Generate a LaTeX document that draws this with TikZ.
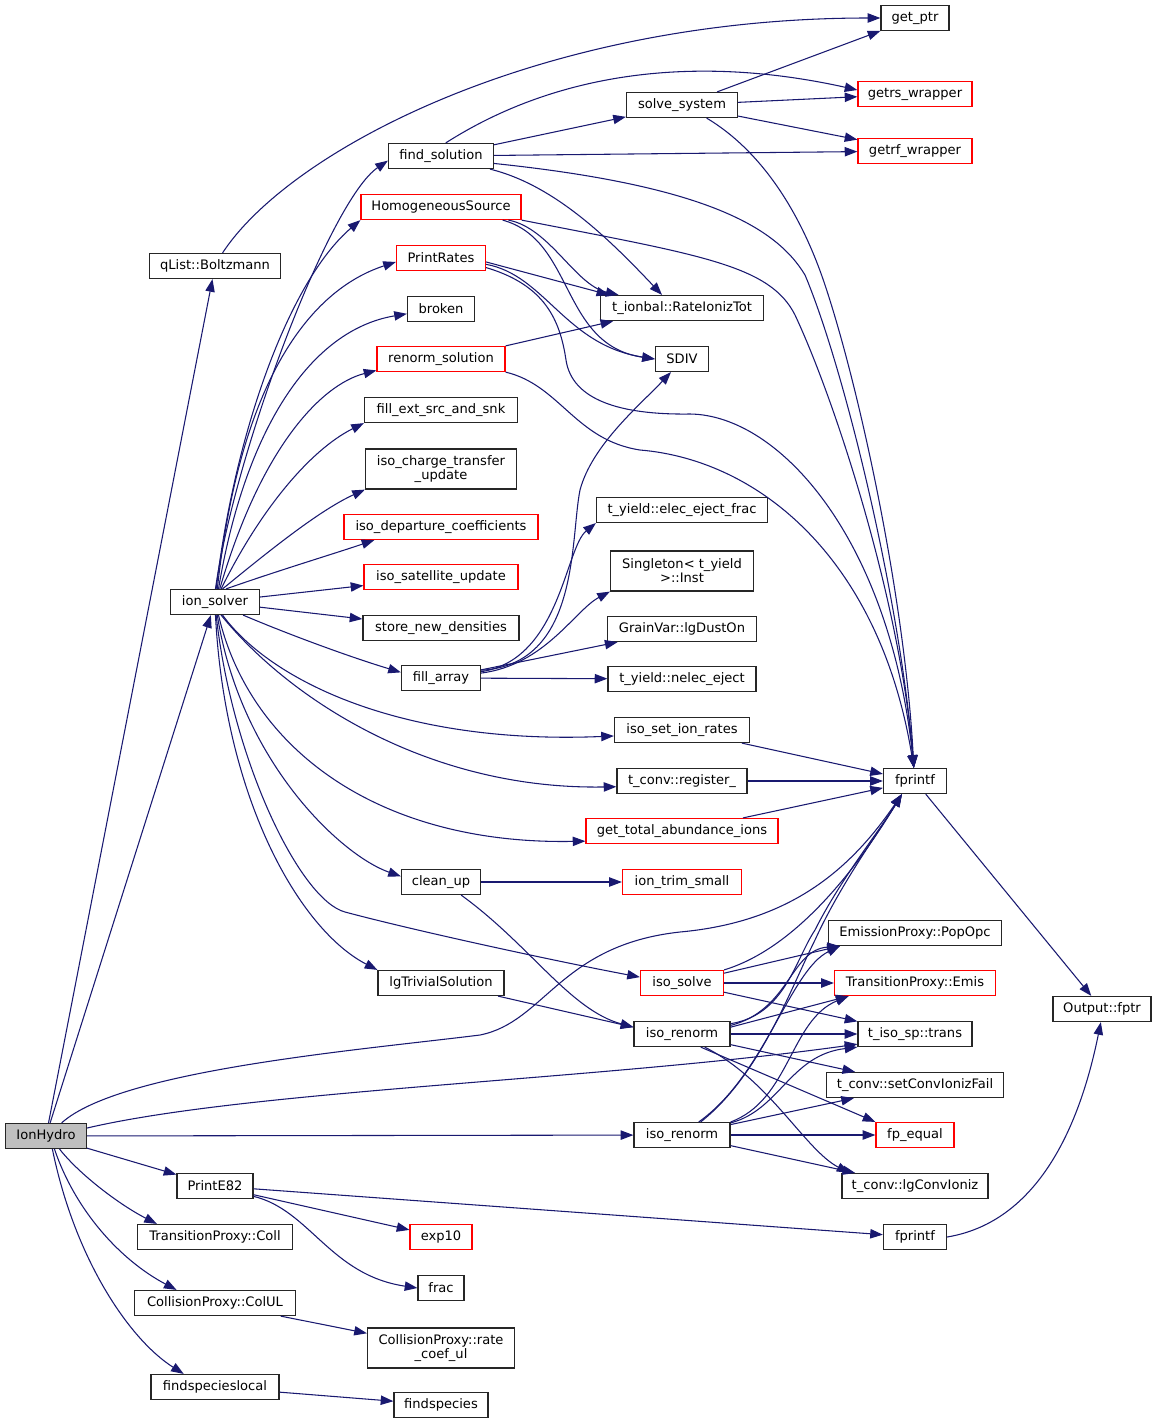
\documentclass[tikz,border=0pt]{standalone}
\usepackage{fontspec}
\setmainfont{DejaVu Sans}
\usetikzlibrary{arrows.meta}
\definecolor{edgeblue}{HTML}{191970}
\definecolor{nodegray}{HTML}{BFBFBF}
\tikzset{
  box/.style={draw=black!85, line width=0.9pt, minimum height=18.75pt, inner xsep=2pt, inner ysep=1pt,
    font=\fontsize{9.8}{10.6}\selectfont, align=center},
  rbox/.style={box, draw=red},
  tall/.style={minimum height=30pt},
  edge/.style={draw=edgeblue, line width=0.8pt, -{Triangle[length=9.5pt,width=7pt]}},
}
\begin{document}
\begin{tikzpicture}[x=0.75pt,y=-0.75pt]
\useasboundingbox (0,0) rectangle (1157,1424);
% ---- nodes
\node[box, minimum width=51pt] (getptr) at (915,18) {get\_ptr};
\node[rbox, minimum width=85.5pt] (getrs) at (915,94) {getrs\_wrapper};
\node[rbox, minimum width=85.5pt] (getrf) at (915,151) {getrf\_wrapper};
\node[box, minimum width=83.25pt] (solvesys) at (682,105) {solve\_system};
\node[box, minimum width=78.75pt] (findsol) at (441,156) {find\_solution};
\node[rbox, minimum width=120pt] (hs) at (441,207) {HomogeneousSource};
\node[rbox, minimum width=66.75pt] (prates) at (441,258) {PrintRates};
\node[box, minimum width=50.25pt] (broken) at (441,309) {broken};
\node[rbox, minimum width=96pt] (renorm) at (441,359) {renorm\_solution};
\node[box, minimum width=114.75pt] (fillext) at (441,410) {fill\_ext\_src\_and\_snk};
\node[box, tall, minimum width=113.25pt] (isoct) at (441,469) {iso\_charge\_transfer\\\_update};
\node[rbox, minimum width=145.5pt] (isodep) at (441,527) {iso\_departure\_coefficients};
\node[rbox, minimum width=115.5pt] (isosat) at (441,577) {iso\_satellite\_update};
\node[box, minimum width=117pt] (storenew) at (441,628) {store\_new\_densities};
\node[box, minimum width=59.25pt] (fillarr) at (441,678) {fill\_array};
\node[box, minimum width=98.25pt] (qlist) at (215,266) {qList::Boltzmann};
\node[box, minimum width=66.75pt] (ionsolver) at (215,602) {ion\_solver};
\node[box, minimum width=122.25pt] (rit) at (682,308) {t\_ionbal::RateIonizTot};
\node[box, minimum width=39.75pt] (sdiv) at (682,359) {SDIV};
\node[box, minimum width=128.25pt] (elec) at (682,510) {t\_yield::elec\_eject\_frac};
\node[box, tall, minimum width=107.25pt] (singleton) at (682,571) {Singleton< t\_yield\\>::Inst};
\node[box, minimum width=111.75pt] (lgdust) at (682,629) {GrainVar::lgDustOn};
\node[box, minimum width=111pt] (nelec) at (682,679) {t\_yield::nelec\_eject};
\node[box, minimum width=101.25pt] (isoset) at (682,730) {iso\_set\_ion\_rates};
\node[box, minimum width=97.5pt] (register) at (682,781) {t\_conv::register\_};
\node[rbox, minimum width=144pt] (gettot) at (682,831) {get\_total\_abundance\_ions};
\node[box, minimum width=59.25pt] (cleanup) at (441,882) {clean\_up};
\node[rbox, minimum width=89.25pt] (iontrim) at (682,882) {ion\_trim\_small};
\node[box, minimum width=94.5pt] (lgtriv) at (441,983) {lgTrivialSolution};
\node[rbox, minimum width=62.25pt] (isosolve) at (682,983) {iso\_solve};
\node[box, minimum width=72pt] (isorenorma) at (682,1034) {iso\_renorm};
\node[box, minimum width=72pt] (isorenormb) at (682,1135) {iso\_renorm};
\node[box, minimum width=47.25pt] (fprintfa) at (915,781) {fprintf};
\node[box, minimum width=129.75pt] (popopc) at (915,933) {EmissionProxy::PopOpc};
\node[rbox, minimum width=120.75pt] (emis) at (915,983) {TransitionProxy::Emis};
\node[box, minimum width=85.5pt] (trans) at (915,1034) {t\_iso\_sp::trans};
\node[box, minimum width=132.75pt] (setconv) at (915,1085) {t\_conv::setConvIonizFail};
\node[rbox, minimum width=58.5pt] (fpequal) at (915,1135) {fp\_equal};
\node[box, minimum width=109.5pt] (lgconv) at (915,1186) {t\_conv::lgConvIoniz};
\node[box, minimum width=73.5pt] (fptr) at (1102,1009) {Output::fptr};
\node[box, minimum width=47.25pt] (fprintfb) at (915,1237) {fprintf};
\node[box, minimum width=60.75pt, fill=nodegray] (ionhydro) at (46,1136) {IonHydro};
\node[box, minimum width=57pt] (printe82) at (215,1186) {PrintE82};
\node[box, minimum width=116.25pt] (coll) at (215,1237) {TransitionProxy::Coll};
\node[box, minimum width=120.75pt] (colul) at (215,1303) {CollisionProxy::ColUL};
\node[box, minimum width=96pt] (fsl) at (215,1387) {findspecieslocal};
\node[rbox, minimum width=46.5pt] (exp10) at (441,1237) {exp10};
\node[box, minimum width=34.5pt] (frac) at (441,1288) {frac};
\node[box, tall, minimum width=110.25pt] (ratecoef) at (441,1348) {CollisionProxy::rate\\\_coef\_ul};
\node[box, minimum width=70.5pt] (findspecies) at (441,1405) {findspecies};
% ---- IonHydro
\draw[edge] (ionhydro) -- (qlist);
\draw[edge] (ionhydro) -- (ionsolver);
\draw[edge] (ionhydro.40) .. controls (120,1070) and (360,1050) .. (480,1035) .. controls (545,1022) and (560,945) .. (680,932) .. controls (790,922) and (850,870) .. (fprintfa.225);
\draw[edge] (ionhydro.11) .. controls (250,1090) and (600,1080) .. (trans.190);
\draw[edge] (ionhydro) -- (isorenormb);
\draw[edge] (ionhydro) -- (printe82);
\draw[edge] (ionhydro.-44) .. controls (80,1175) and (120,1205) .. ([xshift=15pt]coll.north west);
\draw[edge] (ionhydro.-57) .. controls (75,1210) and (120,1260) .. ([xshift=32pt]colul.north west);
\draw[edge] (ionhydro.-64) .. controls (75,1260) and (130,1340) .. ([xshift=25pt]fsl.north west);
% ---- lower left
\draw[edge] (printe82) -- (fprintfb);
\draw[edge] (printe82) -- (exp10);
\draw[edge] (printe82.-15) .. controls (310,1210) and (330,1275) .. (frac.west);
\draw[edge] (colul) -- (ratecoef);
\draw[edge] (fsl) -- (findspecies);
% ---- qList
\draw[edge] (qlist.60) .. controls (290,150) and (540,18) .. (getptr.west);
% ---- ion_solver
\draw[edge] (ionsolver.88) .. controls (235,450) and (330,200) .. (findsol.185);
\draw[edge] (ionsolver.85) .. controls (235,430) and (290,280) .. (hs.south west);
\draw[edge] (ionsolver.80) .. controls (240,380) and (310,290) .. (prates.185);
\draw[edge] (ionsolver.75) .. controls (245,430) and (310,330) .. (broken.188);
\draw[edge] (ionsolver.70) .. controls (260,450) and (320,385) .. (renorm.190);
\draw[edge] (ionsolver.65) .. controls (260,510) and (310,450) .. (fillext.south west);
\draw[edge] (ionsolver.60) .. controls (270,550) and (320,510) .. (isoct.south west);
\draw[edge] (ionsolver.50) .. controls (280,570) and (330,555) .. ([xshift=-50pt]isodep.south);
\draw[edge] (ionsolver) -- (isosat);
\draw[edge] (ionsolver) -- (storenew);
\draw[edge] (ionsolver.-25) .. controls (290,635) and (350,657) .. (fillarr.172);
\draw[edge] (ionsolver.-60) .. controls (270,680) and (400,745) .. (isoset.185);
\draw[edge] (ionsolver.-65) .. controls (290,700) and (430,790) .. (register.185);
\draw[edge] (ionsolver.-75) .. controls (250,750) and (380,845) .. (gettot.186);
\draw[edge] (ionsolver.-80) .. controls (240,760) and (340,855) .. (cleanup.172);
\draw[edge] (ionsolver.-85) .. controls (232,760) and (300,900) .. (345,912) .. controls (420,932) and (560,962) .. (isosolve.172);
\draw[edge] (ionsolver.-88) .. controls (225,800) and (300,930) .. (lgtriv.north west);
% ---- find_solution / solve_system
\draw[edge] (findsol.70) .. controls (560,70) and (700,55) .. ([yshift=3pt]getrs.west);
\draw[edge] (findsol) -- (solvesys);
\draw[edge] (findsol) -- (getrf);
\draw[edge] (findsol.-15) .. controls (555,185) and (610,240) .. ([xshift=-15pt]rit.north);
\draw[edge] (findsol.-8) .. controls (700,185) and (775,225) .. (805,275) .. controls (845,370) and (900,600) .. (fprintfa.95);
\draw[edge] (solvesys) -- (getptr);
\draw[edge] (solvesys) -- (getrs);
\draw[edge] (solvesys) -- (getrf);
\draw[edge] (solvesys.-28) .. controls (760,150) and (800,210) .. (825,285) .. controls (860,390) and (905,600) .. (fprintfa.95);
% ---- HomogeneousSource / PrintRates / renorm_solution
\draw[edge] (hs.-11) .. controls (550,228) and (575,285) .. ([xshift=14pt]rit.north west);
\draw[edge] (hs.-12) .. controls (575,240) and (560,345) .. (sdiv.west);
\draw[edge] (hs.south east) .. controls (700,255) and (770,265) .. (795,315) .. controls (835,400) and (900,600) .. (fprintfa.95);
\draw[edge] (prates.-5) -- ([xshift=7pt]rit.north west);
\draw[edge] (prates.-8) .. controls (545,275) and (565,345) .. (sdiv.west);
\draw[edge] (prates.-12) .. controls (545,285) and (560,320) .. (566,360) .. controls (572,400) and (620,415) .. (690,414) .. controls (780,415) and (890,540) .. (fprintfa.95);
\draw[edge] (renorm.north east) -- ([xshift=10pt]rit.south west);
\draw[edge] (renorm.south east) .. controls (560,385) and (575,440) .. (640,450) .. controls (760,460) and (880,560) .. (fprintfa.95);
% ---- fill_array
\draw[edge] (fillarr.11) .. controls (580,665) and (570,540) .. (580,490) .. controls (592,445) and (640,405) .. (sdiv.230);
\draw[edge] (fillarr.9) .. controls (560,660) and (565,548) .. (elec.south west);
\draw[edge] (fillarr.7) .. controls (545,665) and (575,610) .. (singleton.south west);
\draw[edge] (fillarr) -- (lgdust);
\draw[edge] (fillarr) -- (nelec);
% ---- to fprintf
\draw[edge] (isoset) -- (fprintfa);
\draw[edge] (register) -- (fprintfa);
\draw[edge] (gettot) -- (fprintfa);
\draw[edge] (fprintfa) -- (fptr);
\draw[edge] (fprintfb.east) .. controls (1050,1220) and (1085,1100) .. (fptr.265);
% ---- clean_up / lgTrivialSolution
\draw[edge] (cleanup) -- (iontrim);
\draw[edge] (cleanup.-33) .. controls (530,945) and (570,1010) .. (isorenorma.172);
\draw[edge] (lgtriv) -- (isorenorma.172);
% ---- iso_solve
\draw[edge] (isosolve.north east) .. controls (790,950) and (850,880) .. (fprintfa.225);
\draw[edge] (isosolve) -- ([xshift=9pt]popopc.south west);
\draw[edge] (isosolve) -- (emis);
\draw[edge] (isosolve) -- (trans);
% ---- iso_renorm (a)
\draw[edge] (isorenorma.12) .. controls (785,1015) and (795,960) .. (815,930) .. controls (840,880) and (880,830) .. (fprintfa.225);
\draw[edge] (isorenorma.10) .. controls (790,1010) and (790,950) .. ([xshift=9pt]popopc.south west);
\draw[edge] (isorenorma.8) -- ([xshift=11pt]emis.south west);
\draw[edge] (isorenorma) -- (trans);
\draw[edge] (isorenorma) -- (setconv);
\draw[edge] (isorenorma.-35) -- (fpequal.north west);
\draw[edge] (isorenorma.-30) .. controls (770,1080) and (805,1150) .. ([xshift=6pt]lgconv.north west);
% ---- iso_renorm (b)
\draw[edge] (isorenormb.35) .. controls (760,1075) and (790,990) .. (815,940) .. controls (840,885) and (880,830) .. (fprintfa.225);
\draw[edge] (isorenormb.38) .. controls (765,1075) and (790,970) .. ([xshift=9pt]popopc.south west);
\draw[edge] (isorenormb.15) .. controls (790,1100) and (790,1020) .. ([xshift=11pt]emis.south west);
\draw[edge] (isorenormb.14) .. controls (780,1110) and (790,1055) .. (trans.south west);
\draw[edge] (isorenormb) -- (setconv);
\draw[edge] (isorenormb) -- (fpequal);
\draw[edge] (isorenormb) -- (lgconv);
\end{tikzpicture}
\end{document}
